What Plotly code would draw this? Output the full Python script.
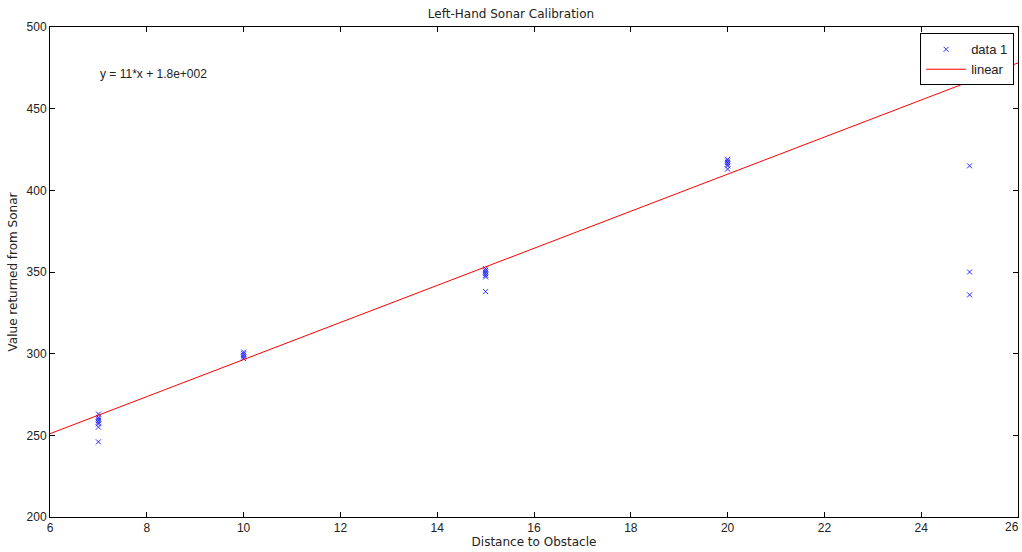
import plotly.graph_objects as go

# Measured data (distance in, sonar value)
dist_7 = [7, 7, 7, 7, 7, 7, 7, 7]
val_7 = [263, 261, 260, 259, 258, 257, 255, 246]
dist_10 = [10, 10, 10, 10, 10]
val_10 = [301, 300, 299, 298, 297]
dist_15 = [15, 15, 15, 15, 15, 15, 15]
val_15 = [352, 351, 350, 349, 348, 347, 338]
dist_20 = [20, 20, 20, 20, 20, 20]
val_20 = [419, 418, 417, 416, 415, 413]
dist_25 = [25, 25, 25]
val_25 = [415, 350, 336]

# Linear fit coefficients (as drawn)
fit_slope = 11.35
fit_intercept = 182.9
fit_x = [6, 26]

x_ticks = [6, 8, 10, 12, 14, 16, 18, 20, 22, 24, 26]
y_ticks = [200, 250, 300, 350, 400, 450, 500]

xs = dist_7 + dist_10 + dist_15 + dist_20 + dist_25
ys = val_7 + val_10 + val_15 + val_20 + val_25
fit_y = [fit_slope * x + fit_intercept for x in fit_x]

TXT = "#222"
SANS = "Liberation Sans, Arial"
WIDE = "DejaVu Sans"

fig = go.Figure()
fig.add_trace(go.Scatter(
    x=xs, y=ys, mode="markers", name="data 1",
    marker=dict(symbol="x-thin", size=5, color="#2a2aff",
                line=dict(color="#2a2aff", width=1)),
))
fig.add_trace(go.Scatter(
    x=fit_x, y=fit_y, mode="lines", name="linear",
    line=dict(color="#ff0000", width=1),
))

axis_common = dict(
    showgrid=False, zeroline=False, showline=True, linecolor="black",
    linewidth=1, mirror="ticks", ticks="inside", ticklen=5,
    tickcolor="black", tickfont=dict(family=SANS, size=12, color=TXT),
)
fig.update_xaxes(range=[6, 26], tickvals=x_ticks, **axis_common,
                 title=dict(text="Distance to Obstacle", standoff=3,
                            font=dict(family=WIDE, size=12, color=TXT)))
fig.update_yaxes(range=[200, 500], tickvals=y_ticks, **axis_common,
                 title=dict(text="Value returned from Sonar", standoff=6,
                            font=dict(family=WIDE, size=12, color=TXT)))

# last x tick label, kept inside the page edge
fig.add_annotation(x=x_ticks[-1], y=0, xref="x", yref="paper", text=str(x_ticks[-1]),
                   showarrow=False, xanchor="right", yanchor="top", yshift=-1, xshift=3,
                   font=dict(family=SANS, size=12, color=TXT))

fig.add_annotation(x=7, y=471, xref="x", yref="y", text="y = 11*x + 1.8e+002",
                   showarrow=False, xanchor="left", yanchor="middle",
                   font=dict(family=SANS, size=12, color=TXT))

fig.update_layout(
    width=1022, height=552,
    margin=dict(l=50, r=4, t=27, b=35),
    paper_bgcolor="white", plot_bgcolor="white",
    title=dict(text="Left-Hand Sonar Calibration", x=0.5, xanchor="center",
               y=0.975, yanchor="middle",
               font=dict(family=WIDE, size=12, color=TXT)),
    legend=dict(x=0.996, y=0.987, xanchor="right", yanchor="top",
                bordercolor="black", borderwidth=1, bgcolor="white",
                font=dict(family=SANS, size=13, color=TXT),
                tracegroupgap=0, itemwidth=40),
    showlegend=True,
)

fig.write_html("out.html")
